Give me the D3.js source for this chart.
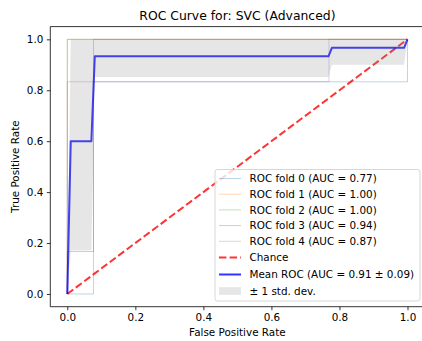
<!DOCTYPE html>
<html><head><meta charset="utf-8">
<script src="https://cdn.jsdelivr.net/npm/d3@7"></script>
<style>body{margin:0;background:#fff;overflow:hidden}svg{display:block;font-family:"DejaVu Sans",sans-serif}</style>
</head><body>
<script>
// ---- data ----
const foldNames = ["ROC fold 0 (AUC = 0.77)","ROC fold 1 (AUC = 1.00)","ROC fold 2 (AUC = 1.00)","ROC fold 3 (AUC = 0.94)","ROC fold 4 (AUC = 0.87)"];
const foldColors = ["#1f77b4","#ff7f0e","#2ca02c","#d62728","#9467bd"];
const fold0Fpr = [0, 0.0769, 0.0769, 1, 1];
const fold0Tpr = [0, 0, 0.8333, 0.8333, 1];
const fold1Fpr = [0, 0, 1];
const fold1Tpr = [0, 1, 1];
const fold2Fpr = [0, 0, 1];
const fold2Tpr = [0, 1, 1];
const fold3Fpr = [0, 0, 0.0769, 0.0769, 1];
const fold3Tpr = [0, 0.1667, 0.1667, 1, 1];
const fold4Fpr = [0, 0, 0.7692, 0.7692, 1];
const fold4Tpr = [0, 0.8333, 0.8333, 1, 1];
const meanFpr = [0, 0.0101, 0.0707, 0.0808, 0.7677, 0.7778, 0.9899, 1.0];
const meanTpr = [0, 0.6, 0.6, 0.9333, 0.9333, 0.9667, 0.9667, 1.0];
const tprUpper = [0, 1, 1, 1, 1, 1, 1, 1];
const tprLower = [0, 0.1705, 0.1705, 0.8517, 0.8517, 0.9, 0.9, 1.0];
const chanceX = [0, 1];
const chanceY = [0, 1];
const xTicks = [0, 0.2, 0.4, 0.6, 0.8, 1.0];
const yTicks = [0, 0.2, 0.4, 0.6, 0.8, 1.0];
const chartTitle = "ROC Curve for: SVC (Advanced)";
const xLabel = "False Positive Rate";
const yLabel = "True Positive Rate";
const chanceLabel = "Chance";
const meanLabel = "Mean ROC (AUC = 0.91 \u00b1 0.09)";
const bandLabel = "\u00b1 1 std. dev.";

const folds = [[fold0Fpr,fold0Tpr],[fold1Fpr,fold1Tpr],[fold2Fpr,fold2Tpr],[fold3Fpr,fold3Tpr],[fold4Fpr,fold4Tpr]];

const W = 422, H = 341;
const FS = 10.4;
const svg = d3.select("body").append("svg").attr("width", W).attr("height", H);
const x = d3.scaleLinear().domain([-0.05, 1.05]).range([50.3, 424.5]);
const y = d3.scaleLinear().domain([-0.05, 1.05]).range([306.7, 26.6]);

const line = d3.line().x(d => x(d[0])).y(d => y(d[1]));
const zip = (a, b) => a.map((v, i) => [v, b[i]]);

const plot = svg.append("g");
folds.forEach((f, i) => {
  plot.append("path").attr("d", line(zip(f[0], f[1])))
    .attr("fill", "none").attr("stroke", foldColors[i]).attr("stroke-opacity", 0.3).attr("stroke-width", 1);
});
plot.append("path").attr("d", line(zip(chanceX, chanceY)))
  .attr("fill", "none").attr("stroke", "red").attr("stroke-opacity", 0.8).attr("stroke-width", 2)
  .attr("stroke-dasharray", "7.4,3.2");
plot.append("path").attr("d", line(zip(meanFpr, meanTpr)))
  .attr("fill", "none").attr("stroke", "blue").attr("stroke-opacity", 0.8).attr("stroke-width", 2)
  .attr("stroke-linejoin", "round");
const area = d3.area().x((d, i) => x(meanFpr[i])).y0((d, i) => y(tprLower[i])).y1((d, i) => y(tprUpper[i]));
plot.append("path").attr("d", area(meanFpr)).attr("fill", "grey").attr("fill-opacity", 0.2);

// axes
const xAxis = d3.axisBottom(x).tickValues(xTicks).tickFormat(d3.format(".1f")).tickSize(3.5).tickPadding(3.5);
const yAxis = d3.axisLeft(y).tickValues(yTicks).tickFormat(d3.format(".1f")).tickSize(3.5).tickPadding(3.5);
const gx = svg.append("g").attr("transform", `translate(0,${y(-0.05)})`).call(xAxis);
const gy = svg.append("g").attr("transform", `translate(${x(-0.05)},0)`).call(yAxis);
[gx, gy].forEach(g => {
  g.select(".domain").remove();
  g.selectAll(".tick line").attr("stroke", "#000").attr("stroke-width", 0.8);
  g.selectAll(".tick text").attr("font-size", FS).attr("fill", "#000").attr("font-family", "DejaVu Sans");
});
// spines
const sp = svg.append("g").attr("stroke", "#000").attr("stroke-width", 0.8);
sp.append("line").attr("x1", x(-0.05)).attr("x2", x(1.05)).attr("y1", y(-0.05)).attr("y2", y(-0.05));
sp.append("line").attr("x1", x(-0.05)).attr("x2", x(1.05)).attr("y1", y(1.05)).attr("y2", y(1.05));
sp.append("line").attr("x1", x(-0.05)).attr("x2", x(-0.05)).attr("y1", y(-0.05)).attr("y2", y(1.05));
sp.append("line").attr("x1", x(1.05)).attr("x2", x(1.05)).attr("y1", y(-0.05)).attr("y2", y(1.05));

// labels
svg.append("text").attr("x", (x(-0.05) + x(1.05)) / 2).attr("y", 20).attr("text-anchor", "middle")
  .attr("font-size", 12.4).text(chartTitle);
svg.append("text").attr("x", (x(-0.05) + x(1.05)) / 2).attr("y", 336).attr("text-anchor", "middle")
  .attr("font-size", FS).text(xLabel);
svg.append("text").attr("transform", `translate(19,${(y(-0.05) + y(1.05)) / 2}) rotate(-90)`).attr("text-anchor", "middle")
  .attr("font-size", FS).text(yLabel);

// legend
const lg = svg.append("g");
lg.append("rect").attr("x", 215).attr("y", 169.5).attr("width", 205).attr("height", 131.5).attr("rx", 2.5)
  .attr("fill", "#fff").attr("fill-opacity", 0.8).attr("stroke", "#cccccc").attr("stroke-width", 0.8);
const rowY = [178.5, 194.2, 209.9, 225.6, 241.3, 257.5, 274.5, 291.0];
const entries = foldNames.map((n, i) => ({label: n, type: "fold", color: foldColors[i]}))
  .concat([{label: chanceLabel, type: "chance"}, {label: meanLabel, type: "mean"}, {label: bandLabel, type: "band"}]);
entries.forEach((e, i) => {
  const cy = rowY[i];
  if (e.type === "fold") {
    lg.append("line").attr("x1", 219).attr("x2", 241).attr("y1", cy).attr("y2", cy)
      .attr("stroke", e.color).attr("stroke-opacity", 0.3).attr("stroke-width", 1);
  } else if (e.type === "chance") {
    lg.append("line").attr("x1", 219).attr("x2", 241).attr("y1", cy).attr("y2", cy)
      .attr("stroke", "red").attr("stroke-opacity", 0.8).attr("stroke-width", 2).attr("stroke-dasharray", "7.4,3.2");
  } else if (e.type === "mean") {
    lg.append("line").attr("x1", 219).attr("x2", 241).attr("y1", cy).attr("y2", cy)
      .attr("stroke", "blue").attr("stroke-opacity", 0.8).attr("stroke-width", 2);
  } else {
    lg.append("rect").attr("x", 219).attr("y", cy - 3.8).attr("width", 22).attr("height", 7.6)
      .attr("fill", "grey").attr("fill-opacity", 0.2);
  }
  lg.append("text").attr("x", 249.5).attr("y", cy + 3.7).attr("font-size", FS).attr("fill", "#000").text(e.label);
});
</script>
</body></html>
